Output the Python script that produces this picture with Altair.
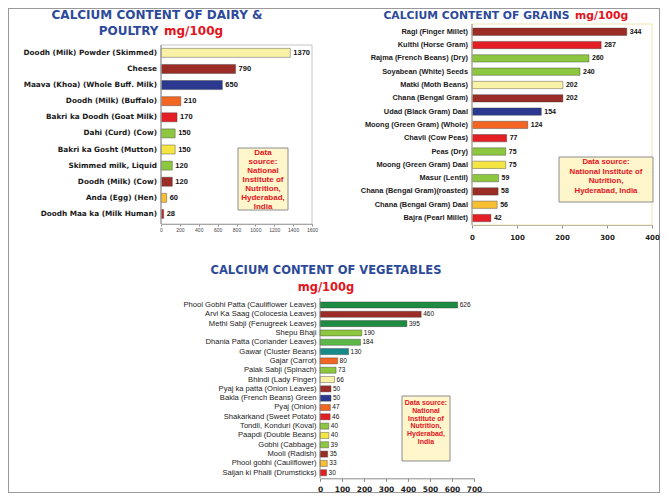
import altair as alt
import pandas as pd

OFF = 8          # page margin: reference pixel -> view pixel
W, H = 652, 485

BLUE = "#2D4A9A"
RED = "#E3141C"

BROWN = "#9B2D26"
RED_B = "#E31E24"
LGREEN = "#8DC63F"
PALE = "#F9F1A5"
NAVY = "#2B3990"
ORANGE = "#F26522"
YELLOW = "#F4E542"
GOLD = "#F8BF33"
DKGREEN = "#1E8B43"
MGREEN = "#5CB947"
TEAL = "#178A8A"
CRIMSON = "#C1272D"

# ---------------- data ----------------
dairy_items = ["Doodh (Milk) Powder (Skimmed)", "Cheese", "Maava (Khoa) (Whole Buff. Milk)",
               "Doodh (Milk) (Buffalo)", "Bakri ka Doodh (Goat Milk)", "Dahi (Curd) (Cow)",
               "Bakri ka Gosht (Mutton)", "Skimmed milk, Liquid", "Doodh (Milk) (Cow)",
               "Anda (Egg) (Hen)", "Doodh Maa ka (Milk Human)"]
dairy_values = [1370, 790, 650, 210, 170, 150, 150, 120, 120, 60, 28]
dairy_colors = [PALE, BROWN, NAVY, ORANGE, RED_B, LGREEN, YELLOW, LGREEN, BROWN, GOLD, CRIMSON]

grain_items = ["Ragi (Finger Millet)", "Kulthi (Horse Gram)", "Rajma (French Beans) (Dry)",
               "Soyabean (White) Seeds", "Matki (Moth Beans)", "Chana (Bengal Gram)",
               "Udad (Black Gram) Daal", "Moong (Green Gram) (Whole)", "Chavli (Cow Peas)",
               "Peas (Dry)", "Moong (Green Gram) Daal", "Masur (Lentil)",
               "Chana (Bengal Gram)(roasted)", "Chana (Bengal Gram) Daal", "Bajra (Pearl Millet)"]
grain_values = [344, 287, 260, 240, 202, 202, 154, 124, 77, 75, 75, 59, 58, 56, 42]
grain_colors = [BROWN, RED_B, LGREEN, LGREEN, PALE, BROWN, NAVY, ORANGE, RED_B,
                LGREEN, YELLOW, LGREEN, BROWN, GOLD, RED_B]

veg_items = ["Phool Gobhi Patta (Cauliflower Leaves)", "Arvi Ka Saag (Colocesia Leaves)",
             "Methi Sabji (Fenugreek Leaves)", "Shepu Bhaji", "Dhania Patta (Coriander Leaves)",
             "Gawar (Cluster Beans)", "Gajar (Carrot)", "Palak Sabji (Spinach)",
             "Bhindi (Lady Finger)", "Pyaj ka patta (Onion Leaves)", "Bakla (French Beans) Green",
             "Pyaj (Onion)", "Shakarkand (Sweet Potato)", "Tondli, Konduri (Koval)",
             "Paapdi (Double Beans)", "Gobhi (Cabbage)", "Mooli (Radish)",
             "Phool gobhi (Cauliflower)", "Saijan ki Phalli (Drumsticks)"]
veg_values = [626, 460, 395, 190, 184, 130, 80, 73, 66, 50, 50, 47, 46, 40, 40, 39, 35, 33, 30]
veg_colors = [DKGREEN, BROWN, DKGREEN, LGREEN, MGREEN, TEAL, ORANGE, LGREEN, PALE, BROWN,
              NAVY, ORANGE, RED_B, LGREEN, YELLOW, LGREEN, BROWN, GOLD, RED_B]

dairy_src = ["Data", "source:", "National", "Institute of", "Nutrition,", "Hyderabad,", "India"]
grain_src = ["Data source:", "National Institute of", "Nutrition,", "Hyderabad, India"]
veg_src = ["Data source:", "National", "Institute of", "Nutrition,", "Hyderabad,", "India"]

one = pd.DataFrame({"k": [0]})


def P(v):
    return v - OFF


def panel(items, values, colors, x0, x1, dmax, step, ytop, ybot, pinner, axis_y,
          ylab, xlab, val, xtick, xlab_pad, ylab_pad, val_dx):
    df = pd.DataFrame({"item": items, "value": values, "color": colors})
    xs = alt.Scale(domain=[0, dmax], range=[P(x0), P(x1)], nice=False, zero=True)
    ys = alt.Scale(range=[P(ytop), P(ybot)], paddingInner=pinner, paddingOuter=pinner / 2)
    xaxis = alt.Axis(orient="bottom", offset=P(axis_y) - H, values=list(range(0, dmax + 1, step)),
                     format="d", grid=False, title=None, domainColor="#8a8a8a", tickColor="#8a8a8a",
                     tickSize=xtick, labelFont=xlab[0], labelFontSize=xlab[1],
                     labelFontWeight=xlab[2], labelColor=xlab[3], labelPadding=xlab_pad,
                     labelFlush=False)
    yaxis = alt.Axis(orient="left", offset=-P(x0), title=None, grid=False, ticks=False,
                     domain=False, labelFont=ylab[0], labelFontSize=ylab[1],
                     labelFontWeight=ylab[2], labelColor="#1a1a1a", labelPadding=ylab_pad,
                     labelLimit=300)
    base = alt.Chart(df)
    bars = base.mark_bar(stroke="#3a3a3a", strokeWidth=0.5, strokeOpacity=0.8).encode(
        x=alt.X("value:Q", scale=xs, axis=xaxis),
        y=alt.Y("item:N", sort=None, scale=ys, axis=yaxis),
        color=alt.Color("color:N", scale=None),
    )
    labels = base.mark_text(align="left", baseline="middle", dx=val_dx, font=val[0],
                            fontSize=val[1], fontWeight=val[2], color="#111").encode(
        x=alt.X("value:Q"),
        y=alt.Y("item:N", sort=None),
        text=alt.Text("value:Q"),
    )
    return alt.layer(bars, labels)


def txt(s, x, y, size, color, align="center", weight="bold", font="DejaVu Sans", baseline="middle", lh=None):
    kw = dict(text=s, align=align, baseline=baseline, font=font, fontSize=size,
              fontWeight=weight, color=color)
    if lh is not None:
        kw["lineHeight"] = lh
    return alt.Chart(one).mark_text(**kw).encode(x=alt.value(P(x)), y=alt.value(P(y)))


def rect(x0, y0, x1, y1, fill, stroke, sw=1):
    return alt.Chart(one).mark_rect(fill=fill, stroke=stroke, strokeWidth=sw).encode(
        x=alt.value(P(x0)), x2=alt.value(P(x1)), y=alt.value(P(y0)), y2=alt.value(P(y1)))


def vline(x, y0, y1, color="#8a8a8a"):
    return alt.Chart(one).mark_rule(color=color, strokeWidth=1).encode(
        x=alt.value(P(x)), y=alt.value(P(y0)), y2=alt.value(P(y1)))


# ---------------- panels ----------------
dairy = panel(dairy_items, dairy_values, dairy_colors, 161, 312, 1600, 200, 44.8, 222.0, 0.44, 224,
              ylab=("DejaVu Sans", 7.3, "bold"), xlab=("Liberation Sans", 5, "normal", "#444"),
              val=("Liberation Sans", 7.5, "bold"), xtick=2, xlab_pad=1, ylab_pad=4.5, val_dx=3)

grains = panel(grain_items, grain_values, grain_colors, 472, 652, 400, 100, 25.1, 224.7, 0.45, 225,
               ylab=("Liberation Sans", 7.4, "bold"), xlab=("DejaVu Sans", 7, "bold", "#222"),
               val=("Liberation Sans", 7, "bold"), xtick=3, xlab_pad=5, ylab_pad=4.5, val_dx=3)

veg = panel(veg_items, veg_values, veg_colors, 320, 474, 700, 100, 300.3, 477.4, 0.35, 478.3,
            ylab=("Liberation Sans", 7.6, "normal"), xlab=("DejaVu Sans", 7.5, "bold", "#222"),
            val=("Liberation Sans", 6.5, "normal"), xtick=3, xlab_pad=4, ylab_pad=4, val_dx=2)

deco = [
    # plot frames and y axis lines
    rect(161, 45, 312, 224, "transparent", "#c4c4c4"),
    rect(472, 24, 652, 225, "transparent", "#ece6b4"),
    vline(161, 45, 224),
    vline(472, 24, 225),
    vline(320, 298, 478.3),
    # titles
    txt("CALCIUM CONTENT OF DAIRY &", 157, 15, 12, BLUE),
    txt("POULTRY", 158.5, 30.5, 12, BLUE, align="right"),
    txt("mg/100g", 164, 30.5, 12, RED, align="left"),
    txt("CALCIUM CONTENT OF GRAINS", 569.5, 16, 10.8, BLUE, align="right"),
    txt("mg/100g", 575, 16, 10.8, RED, align="left"),
    txt("CALCIUM CONTENT OF VEGETABLES", 326, 271, 11.5, BLUE),
    txt("mg/100g", 326, 288, 11.5, RED),
    # data source boxes
    rect(238, 148, 288, 210, "#FFF6CC", "#8c8c8c"),
    txt(dairy_src, 263, 149, 8, RED, font="Liberation Sans", baseline="top", lh=9),
    rect(559, 157, 653, 202, "#FFF6CC", "#8c8c8c"),
    txt(grain_src, 606, 158, 7.8, RED, font="Liberation Sans", baseline="top", lh=9.7),
    rect(402, 396, 450, 461, "#FFF6CC", "#8c8c8c"),
    txt(veg_src, 426, 399, 7, RED, font="Liberation Sans", baseline="top", lh=7.8),
]

chart = alt.layer(dairy, grains, veg, *deco).resolve_scale(
    x="independent", y="independent"
).properties(
    width=W, height=H, padding=0,
    autosize=alt.AutoSizeParams(type="none"),
).configure_view(stroke="#9a9a9a", strokeWidth=2)

chart.save("out.html", embed_options={"renderer": "svg", "actions": False})
